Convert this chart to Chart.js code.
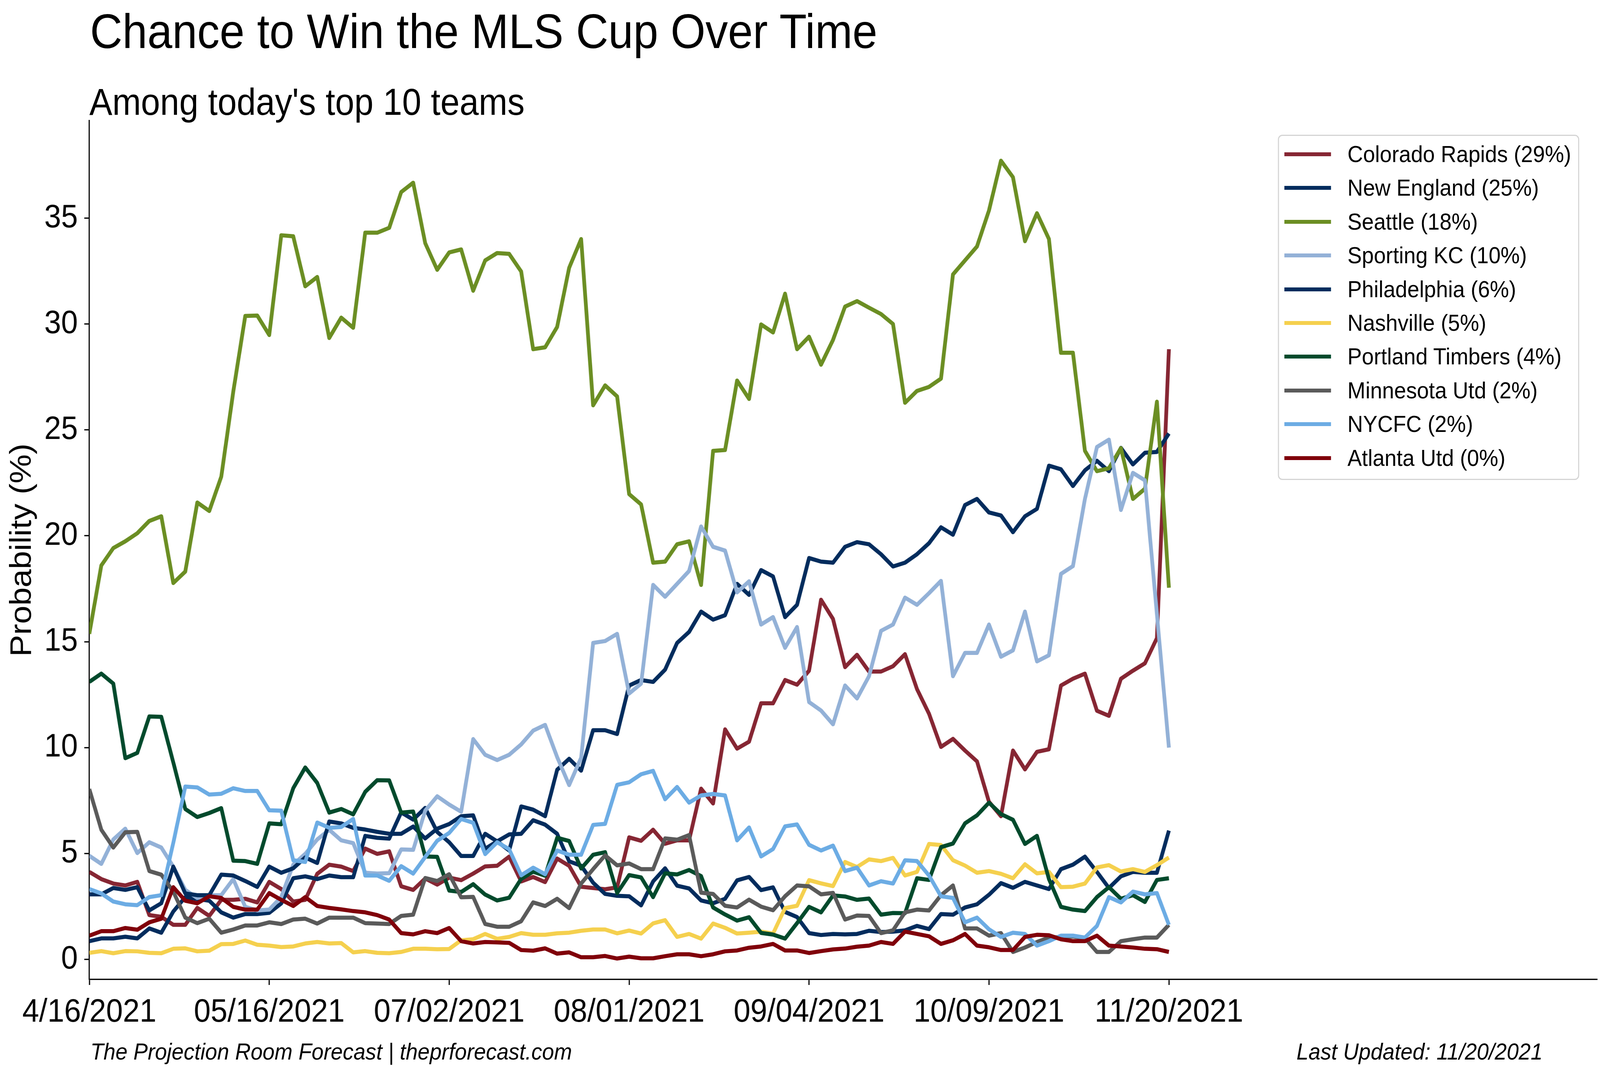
<!DOCTYPE html>
<html>
<head>
<meta charset="utf-8">
<script src="https://cdn.jsdelivr.net/npm/chart.js@4.4.0/dist/chart.umd.min.js"></script>
<style>
  html, body { margin: 0; padding: 0; background: #fff; overflow: hidden; }
  #wrap { position: relative; width: 4461px; height: 2750px; overflow: hidden; transform-origin: 0 0;
          font-family: "Liberation Sans", Arial, sans-serif; color: #000; background: #fff; }
  #chart { position: absolute; left: 0; top: 0; }
  .txt { position: absolute; white-space: nowrap; line-height: 1; }
  #title { left: 251px; top: 17px; font-size: 125px; }
  #subtitle { left: 249px; top: 213px; font-size: 96px; }
  #source { left: 252px; top: 2663px; font-size: 60px; font-style: italic; }
  #updated { right: 160px; top: 2663px; font-size: 60px; font-style: italic; }
  #legend { position: absolute; left: 3563px; top: 345px; width: 840px; height: 884px;
            box-sizing: border-box; border: 3.5px solid #d4d4d4; border-radius: 12px;
            background: rgba(255,255,255,0.85); }
  .row { position: absolute; left: 0; height: 0; }
  .swatch { position: absolute; left: 15px; width: 130px; height: 10px; top: -5px; }
  .label { position: absolute; left: 191px; top: -30px; font-size: 60px; line-height: 60px; white-space: nowrap; }
</style>
</head>
<body>
<div id="wrap">
  <canvas id="chart" width="4461" height="2750" style="width:4461px;height:2750px"></canvas>
  <div class="txt" id="title">Chance to Win the MLS Cup Over Time</div>
  <div class="txt" id="subtitle">Among today's top 10 teams</div>
  <div class="txt" id="source">The Projection Room Forecast | theprforecast.com</div>
  <div class="txt" id="updated">Last Updated: 11/20/2021</div>
  <div id="legend"></div>
</div>
<script>
const tickIdx = [0, 15, 30, 45, 60, 75, 90];
const tickLabels = ['4/16/2021', '05/16/2021', '07/02/2021', '08/01/2021', '09/04/2021', '10/09/2021', '11/20/2021'];
const yTicks = [0, 5, 10, 15, 20, 25, 30, 35];

const teamNames = ['Colorado Rapids (29%)', 'New England (25%)', 'Seattle (18%)', 'Sporting KC (10%)',
  'Philadelphia (6%)', 'Nashville (5%)', 'Portland Timbers (4%)', 'Minnesota Utd (2%)', 'NYCFC (2%)', 'Atlanta Utd (0%)'];
const teamColors = ['#862633', '#022c5d', '#6b8e23', '#93b1d7', '#022c5d',
  '#f5d04e', '#014a2c', '#5a5a5a', '#6cace4', '#80000a'];

const colorado = [4.13, 3.79, 3.58, 3.49, 3.66, 2.09, 2.01, 1.63, 1.63, 2.43,
  2.05, 2.81, 2.81, 2.86, 2.69, 3.66, 3.32, 2.73, 2.81, 4.04,
  4.47, 4.38, 4.17, 5.23, 4.98, 5.1, 3.45, 3.28, 3.82, 3.53,
  3.86, 3.74, 4.05, 4.39, 4.42, 4.85, 3.68, 3.89, 3.65, 4.76,
  4.42, 3.43, 3.37, 3.31, 3.40, 5.76, 5.6, 6.12, 5.46, 5.62,
  5.62, 8.06, 7.36, 10.86, 9.95, 10.28, 12.09, 12.09, 13.19, 12.97,
  13.63, 16.98, 16.07, 13.80, 14.38, 13.59, 13.59, 13.84, 14.41, 12.76,
  11.6, 10.03, 10.41, 9.86, 9.35, 7.44, 6.76, 9.86, 8.97, 9.8,
  9.92, 12.93, 13.25, 13.49, 11.74, 11.5, 13.25, 13.63, 13.98, 15.17, 28.81];

const newEngland = [0.86, 0.99, 0.99, 1.07, 0.99, 1.46, 1.26, 2.26, 2.94, 2.85,
  2.77, 2.22, 1.97, 2.14, 2.14, 2.2, 2.64, 3.83, 3.92, 3.79,
  3.96, 3.88, 3.88, 5.83, 5.74, 5.70, 6.94, 6.6, 7.15, 6.02,
  5.53, 4.88, 4.88, 5.93, 5.57, 5.14, 7.22, 7.07, 6.76, 8.95,
  9.47, 8.91, 10.82, 10.82, 10.64, 12.93, 13.19, 13.1, 13.68, 14.94,
  15.46, 16.42, 16.04, 16.25, 17.73, 17.21, 18.38, 18.08, 16.16, 16.74,
  18.95, 18.78, 18.73, 19.48, 19.70, 19.6, 19.13, 18.55, 18.73, 19.13,
  19.65, 20.4, 20.05, 21.45, 21.74, 21.1, 20.96, 20.17, 20.92, 21.27,
  23.31, 23.14, 22.35, 23.09, 23.54, 23.05, 24.15, 23.37, 23.92, 23.96, 24.83];

const seattle = [15.37, 18.6, 19.42, 19.74, 20.12, 20.70, 20.92, 17.77, 18.31, 21.57,
  21.17, 22.79, 26.8, 30.38, 30.4, 29.48, 34.19, 34.14, 31.78, 32.22,
  29.34, 30.30, 29.82, 34.31, 34.31, 34.54, 36.23, 36.67, 33.82, 32.56,
  33.38, 33.52, 31.57, 33.0, 33.35, 33.31, 32.48, 28.81, 28.9, 29.86,
  32.65, 34.01, 26.16, 27.10, 26.58, 21.97, 21.48, 18.73, 18.78, 19.60,
  19.74, 17.68, 24.01, 24.05, 27.33, 26.46, 29.98, 29.6, 31.43, 28.81,
  29.4, 28.08, 29.25, 30.82, 31.08, 30.77, 30.47, 30.0, 26.28, 26.84,
  27.03, 27.42, 32.34, 33.0, 33.66, 35.36, 37.71, 36.93, 33.91, 35.23,
  34.01, 28.64, 28.64, 24.01, 23.05, 23.19, 24.14, 21.74, 22.22, 26.33, 17.55];

const sportingKC = [4.89, 4.51, 5.66, 6.17, 5.02, 5.53, 5.28, 4.38, 3.28, 2.9,
  3.03, 3.03, 3.79, 2.48, 2.31, 2.35, 2.94, 4.47, 4.98, 5.66,
  6.12, 5.62, 5.49, 4.09, 4.05, 4.07, 5.19, 5.17, 7.02, 7.70,
  7.31, 6.97, 10.4, 9.66, 9.41, 9.66, 10.15, 10.8, 11.07, 9.55,
  8.23, 9.52, 14.94, 15.03, 15.37, 12.55, 13.02, 17.68, 17.12, 17.73,
  18.34, 20.44, 19.48, 19.3, 17.33, 17.85, 15.81, 16.16, 14.71, 15.69,
  12.15, 11.75, 11.1, 12.93, 12.32, 13.37, 15.51, 15.81, 17.08, 16.74,
  17.29, 17.87, 13.37, 14.47, 14.47, 15.81, 14.29, 14.59, 16.42, 14.07,
  14.36, 18.20, 18.57, 21.74, 24.19, 24.54, 21.22, 22.97, 22.62, 16.3, 10.0];

const philadelphia = [3.07, 3.07, 3.37, 3.28, 3.41, 2.31, 2.65, 4.38, 3.11, 3.03,
  3.03, 4.0, 3.96, 3.7, 3.42, 4.38, 4.09, 4.3, 4.81, 4.55,
  6.51, 6.42, 6.21, 6.13, 6.02, 5.93, 5.93, 6.27, 5.71, 6.17,
  6.39, 6.76, 6.8, 5.22, 5.57, 5.9, 5.93, 6.57, 6.36, 5.93,
  4.63, 4.42, 3.62, 3.09, 3.0, 2.98, 2.55, 3.68, 4.3, 3.48,
  3.35, 2.78, 2.65, 2.86, 3.73, 3.89, 3.27, 3.40, 2.24, 2.0,
  1.24, 1.15, 1.2, 1.18, 1.2, 1.35, 1.29, 1.31, 1.37, 1.58,
  1.43, 2.14, 2.11, 2.45, 2.6, 3.05, 3.6, 3.38, 3.66, 3.49,
  3.32, 4.26, 4.47, 4.85, 4.13, 3.37, 3.92, 4.13, 4.09, 4.09, 6.08];

const nashville = [0.31, 0.39, 0.29, 0.39, 0.38, 0.31, 0.29, 0.50, 0.52, 0.38,
  0.41, 0.72, 0.73, 0.89, 0.69, 0.65, 0.58, 0.61, 0.75, 0.82,
  0.75, 0.77, 0.33, 0.39, 0.31, 0.29, 0.35, 0.50, 0.5, 0.48,
  0.49, 0.9, 0.95, 1.2, 0.97, 1.06, 1.24, 1.16, 1.16, 1.23,
  1.26, 1.35, 1.41, 1.41, 1.23, 1.36, 1.22, 1.7, 1.85, 1.06,
  1.2, 0.98, 1.69, 1.49, 1.22, 1.26, 1.31, 1.22, 2.42, 2.53,
  3.74, 3.59, 3.46, 4.6, 4.36, 4.72, 4.64, 4.79, 3.96, 4.13,
  5.45, 5.40, 4.68, 4.43, 4.09, 4.17, 4.04, 3.83, 4.49, 4.06,
  4.13, 3.41, 3.43, 3.58, 4.34, 4.45, 4.15, 4.26, 4.13, 4.45, 4.81];

const portland = [13.1, 13.49, 13.02, 9.5, 9.75, 11.47, 11.45, 9.3, 7.10, 6.72,
  6.91, 7.14, 4.66, 4.64, 4.51, 6.42, 6.38, 8.08, 9.06, 8.33,
  6.93, 7.1, 6.85, 7.91, 8.46, 8.45, 6.93, 6.98, 4.86, 4.84,
  3.25, 3.18, 3.55, 3.06, 2.78, 2.91, 3.8, 4.14, 3.95, 5.74,
  5.59, 4.29, 4.94, 5.06, 3.13, 3.98, 3.87, 2.94, 4.06, 4.01,
  4.22, 3.93, 2.45, 2.12, 1.83, 1.99, 1.25, 1.17, 0.98, 1.71,
  2.48, 2.22, 3.02, 2.97, 2.81, 2.87, 2.11, 2.19, 2.18, 3.83,
  3.75, 5.3, 5.47, 6.42, 6.8, 7.4, 6.86, 6.59, 5.45, 5.83,
  3.79, 2.48, 2.35, 2.28, 2.94, 3.41, 2.86, 3.03, 2.71, 3.75, 3.83];

const minnesota = [8.04, 6.12, 5.28, 6.0, 6.02, 4.17, 4.0, 3.2, 1.97, 1.71,
  1.92, 1.26, 1.41, 1.60, 1.60, 1.75, 1.67, 1.88, 1.92, 1.69,
  1.97, 1.97, 1.97, 1.71, 1.69, 1.67, 2.05, 2.11, 3.84, 3.70,
  4.02, 2.93, 2.95, 1.67, 1.54, 1.54, 1.8, 2.69, 2.52, 2.86,
  2.42, 3.58, 4.26, 4.91, 4.44, 4.53, 4.26, 4.26, 5.71, 5.65,
  5.87, 3.15, 3.09, 2.53, 2.45, 2.82, 2.49, 2.32, 2.98, 3.49,
  3.45, 3.07, 3.14, 1.88, 2.07, 2.05, 1.24, 1.37, 2.22, 2.35,
  2.31, 3.03, 3.49, 1.46, 1.46, 1.12, 1.24, 0.35, 0.56, 0.82,
  1.03, 1.05, 1.08, 1.0, 0.35, 0.35, 0.86, 0.95, 1.03, 1.03, 1.63];

const nycfc = [3.32, 3.11, 2.73, 2.60, 2.56, 2.94, 3.03, 5.5, 8.16, 8.12,
  7.78, 7.82, 8.08, 7.95, 7.95, 7.04, 7.02, 4.68, 4.6, 6.46,
  6.21, 6.25, 6.63, 3.96, 3.96, 3.71, 4.40, 4.05, 4.83, 5.6,
  5.97, 6.63, 6.45, 4.97, 5.53, 5.2, 3.97, 4.33, 4.02, 5.14,
  4.94, 4.94, 6.35, 6.4, 8.24, 8.36, 8.74, 8.9, 7.56, 8.14,
  7.4, 7.74, 7.81, 7.74, 5.62, 6.23, 4.86, 5.21, 6.28, 6.37,
  5.41, 5.14, 5.37, 4.17, 4.33, 3.49, 3.69, 3.58, 4.68, 4.64,
  3.96, 2.98, 2.9, 1.75, 1.97, 1.42, 1.06, 1.26, 1.2, 0.65,
  0.86, 1.12, 1.12, 1.03, 1.58, 2.94, 2.69, 3.2, 3.07, 3.13, 1.63];

const atlanta = [1.12, 1.33, 1.33, 1.48, 1.40, 1.75, 1.92, 3.41, 2.77, 2.65,
  2.98, 2.90, 2.48, 2.35, 2.35, 3.13, 2.81, 2.52, 2.94, 2.52,
  2.43, 2.36, 2.28, 2.22, 2.09, 1.88, 1.24, 1.18, 1.33, 1.24,
  1.48, 0.86, 0.75, 0.82, 0.8, 0.78, 0.44, 0.41, 0.52, 0.27,
  0.33, 0.10, 0.10, 0.16, 0.04, 0.13, 0.05, 0.05, 0.15, 0.24,
  0.24, 0.15, 0.24, 0.38, 0.42, 0.55, 0.61, 0.73, 0.42, 0.42,
  0.3, 0.39, 0.47, 0.51, 0.6, 0.65, 0.82, 0.73, 1.31, 1.2,
  1.09, 0.73, 0.9, 1.2, 0.65, 0.57, 0.44, 0.44, 1.06, 1.16,
  1.14, 0.95, 0.86, 0.86, 1.12, 0.65, 0.61, 0.56, 0.5, 0.48, 0.35];

const teamSeries = [colorado, newEngland, seattle, sportingKC, philadelphia,
  nashville, portland, minnesota, nycfc, atlanta];

const fontFamily = '"Liberation Sans", Arial, sans-serif';
Chart.defaults.font.family = fontFamily;
Chart.defaults.color = '#000';

// stretch the 4461x2750 page so it fills whatever viewport we get
function fitPage() {
    const sx = window.innerWidth / 4461;
    const sy = window.innerHeight / 2750;
    document.getElementById('wrap').style.transform = 'scale(' + sx + ',' + sy + ')';
}
fitPage();
window.addEventListener('resize', fitPage);

// later teams sit on top, as in the original plot order
const datasets = teamSeries.map((values, i) => ({
    label: teamNames[i],
    data: values.map((v, idx) => ({ x: idx, y: v })),
    borderColor: teamColors[i],
    backgroundColor: teamColors[i],
    borderWidth: 10.5,
    pointRadius: 0,
    tension: 0,
    fill: false,
    order: teamSeries.length - i
}));

const axisLine = { display: true, color: '#000', width: 3.3 };
const tickMarks = { drawOnChartArea: false, drawTicks: true, tickLength: 14, tickWidth: 3.3, tickColor: '#000' };

new Chart(document.getElementById('chart').getContext('2d'), {
    type: 'line',
    data: { datasets },
    options: {
        responsive: false,
        devicePixelRatio: 1,
        animation: false,
        layout: { padding: { top: 309, right: 8, bottom: 0, left: 0 } },
        plugins: { legend: { display: false }, tooltip: { enabled: false } },
        elements: { line: { borderCapStyle: 'butt', borderJoinStyle: 'round' } },
        scales: {
            x: {
                type: 'linear',
                min: 0,
                max: 125.7,
                afterBuildTicks: scale => { scale.ticks = tickIdx.map(v => ({ value: v })); },
                afterFit: scale => { scale.height = 242; },
                ticks: {
                    autoSkip: false,
                    maxRotation: 0,
                    padding: 20,
                    font: { size: 84 },
                    callback: value => tickLabels[tickIdx.indexOf(value)]
                },
                grid: tickMarks,
                border: axisLine
            },
            y: {
                min: -0.95,
                max: 39.6,
                afterBuildTicks: scale => { scale.ticks = yTicks.map(v => ({ value: v })); },
                afterFit: scale => { scale.width = 249; },
                ticks: { padding: 18, font: { size: 84 } },
                title: {
                    display: true,
                    text: 'Probability (%)',
                    font: { size: 84 },
                    padding: { top: 12, bottom: 0 }
                },
                grid: tickMarks,
                border: axisLine
            }
        }
    }
});

// legend box drawn as html, rows spaced like the original
const legend = document.getElementById('legend');
teamNames.forEach((name, i) => {
    const row = document.createElement('div');
    row.className = 'row';
    row.style.top = (47 + i * 86.4) + 'px';
    row.innerHTML = `<div class="swatch" style="background:${teamColors[i]}"></div><div class="label">${name}</div>`;
    legend.appendChild(row);
});
</script>
</body>
</html>
